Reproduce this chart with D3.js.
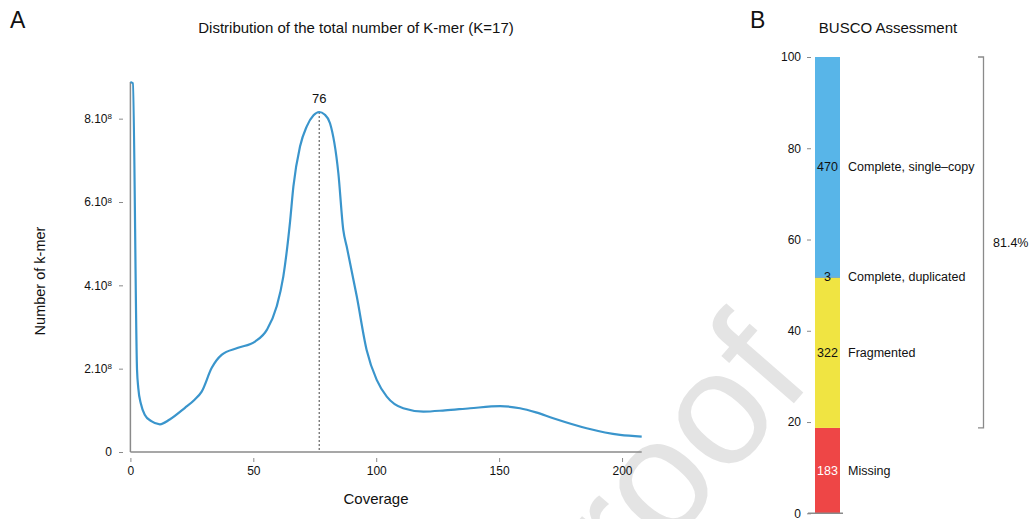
<!DOCTYPE html>
<html>
<head>
<meta charset="utf-8">
<script src="https://cdn.jsdelivr.net/npm/d3@7"></script>
<style>
  body { margin: 0; background: #fff; }
  text { font-family: "Liberation Sans", Arial, Helvetica, sans-serif; fill: #111; }
</style>
</head>
<body>
<div id="chart"></div>
<script>
// k-mer distribution (panel A)
var coverage = [0, 1, 2.7, 3.2, 4.3, 5.9, 8.5, 12, 16, 22.2, 26, 29, 33.1, 37.1, 43.8, 50.7, 55.5, 59.5, 62.2,
  64.9, 66.3, 69, 71.7, 74.5, 76.8, 79, 81.2, 84.6, 86.6, 88, 92.1, 96.1, 100.2, 104.3, 111, 119.2, 128,
  138.2, 150.4, 158.5, 165, 172, 185.6, 199.2, 208];
var kmerCount = [8.88e8, 8.85e8, 1.97e8, 1.54e8, 1.15e8, 0.89e8, 0.74e8, 0.665e8, 0.78e8, 1.06e8, 1.25e8,
  1.45e8, 2.02e8, 2.33e8, 2.5e8, 2.65e8, 2.93e8, 3.49e8, 4.21e8, 5.5e8, 6.37e8, 7.33e8, 7.81e8, 8.08e8,
  8.16e8, 8.1e8, 7.89e8, 6.69e8, 5.33e8, 4.93e8, 3.73e8, 2.45e8, 1.73e8, 1.33e8, 1.05e8, 0.97e8, 1.0e8,
  1.05e8, 1.1e8, 1.05e8, 0.95e8, 0.81e8, 0.57e8, 0.41e8, 0.37e8];
var xTicks = [0, 50, 100, 150, 200];
var yTicks = [0, 2e8, 4e8, 6e8, 8e8];
var peakLabel = "76";

// BUSCO (panel B)
var buscoCats = ["Missing", "Fragmented", "Complete, duplicated", "Complete, single\u2013copy"];
var buscoCounts = [183, 322, 3, 470];
var buscoColors = ["#EE4646", "#F0E442", "#3D8FC4", "#58B5E8"];
var buscoTicks = [0, 20, 40, 60, 80, 100];
var bracketLabel = "81.4%";

var W = 1033, H = 519;
var axisCol = "#8a8a8a";

var svg = d3.select("#chart").append("svg")
  .attr("width", W).attr("height", H);

// watermark behind everything
svg.append("text")
  .attr("transform", "translate(814,380) rotate(-49)")
  .attr("text-anchor", "end")
  .style("font-size", "162px")
  .style("fill", "#e4e4e4")
  .text("Proof");

// ---------- panel A ----------
var x = d3.scaleLinear().domain([0, 208]).range([130.4, 641.7]);
var y = d3.scaleLinear().domain([0, 8.88e8]).range([452, 82]);

svg.append("text").attr("x", 10).attr("y", 28).style("font-size", "23px").text("A");
svg.append("text").attr("x", 356).attr("y", 33).attr("text-anchor", "middle")
  .style("font-size", "15px").text("Distribution of the total number of K-mer (K=17)");

// axis lines
svg.append("line").attr("x1", x(0)).attr("x2", x(0)).attr("y1", y(8.88e8)).attr("y2", y(0))
  .attr("stroke", axisCol).attr("stroke-width", 1.5);
svg.append("line").attr("x1", x(0)).attr("x2", x(208)).attr("y1", y(0)).attr("y2", y(0))
  .attr("stroke", axisCol).attr("stroke-width", 1.5);

var yAxis = svg.append("g").attr("transform", "translate(123,0)")
  .call(d3.axisLeft(y).tickValues(yTicks).tickSize(4).tickPadding(7).tickFormat(""));
yAxis.select(".domain").remove();
yAxis.selectAll(".tick line").attr("stroke", axisCol);
yAxis.selectAll(".tick text").each(function (d) {
  var t = d3.select(this).style("font-size", "12px").style("fill", "#111");
  if (d === 0) { t.text("0"); return; }
  t.append("tspan").text((d / 1e8) + ".10");
  t.append("tspan").attr("dy", "-0.45em").style("font-size", "8px").text("8");
});

var xAxis = svg.append("g").attr("transform", "translate(0,458)")
  .call(d3.axisBottom(x).tickValues(xTicks).tickSize(4).tickPadding(4));
xAxis.select(".domain").remove();
xAxis.selectAll(".tick line").attr("stroke", axisCol);
xAxis.selectAll(".tick text").style("font-size", "12px").style("fill", "#111");

svg.append("text").attr("x", 376).attr("y", 504).attr("text-anchor", "middle")
  .style("font-size", "15px").text("Coverage");
svg.append("text").attr("transform", "translate(45,281) rotate(-90)").attr("text-anchor", "middle")
  .style("font-size", "14.5px").text("Number of k-mer");

var pts = coverage.map(function (c, i) { return [c, kmerCount[i]]; });
var line = d3.line().x(function (d) { return x(d[0]); }).y(function (d) { return y(d[1]); })
  .curve(d3.curveMonotoneX);

// peak marker
var peak = pts.reduce(function (a, b) { return (b[0] > 20 && b[1] > a[1]) ? b : a; }, [0, 0]);
svg.append("line").attr("x1", x(peak[0])).attr("x2", x(peak[0]))
  .attr("y1", y(peak[1])).attr("y2", y(0))
  .attr("stroke", "#444").attr("stroke-width", 1).attr("stroke-dasharray", "2,2");
svg.append("text").attr("x", x(peak[0])).attr("y", y(peak[1]) - 9).attr("text-anchor", "middle")
  .style("font-size", "13px").text(peakLabel);

svg.append("path").datum(pts).attr("d", line)
  .attr("fill", "none").attr("stroke", "#3A95CC").attr("stroke-width", 2.2);

// ---------- panel B ----------
var yb = d3.scaleLinear().domain([0, 100]).range([513.3, 57]);
var total = d3.sum(buscoCounts);
var acc = 0;
var segs = buscoCounts.map(function (c, i) {
  var s = { cat: buscoCats[i], n: c, y0: acc / total * 100, color: buscoColors[i] };
  acc += c;
  s.y1 = acc / total * 100;
  return s;
});

svg.append("text").attr("x", 750).attr("y", 28).style("font-size", "23px").text("B");
svg.append("text").attr("x", 888).attr("y", 33).attr("text-anchor", "middle")
  .style("font-size", "15px").text("BUSCO Assessment");

var bx0 = 815, bx1 = 840;
svg.selectAll("rect.seg").data(segs).enter().append("rect").attr("class", "seg")
  .attr("x", bx0).attr("width", bx1 - bx0)
  .attr("y", function (d) { return yb(d.y1); })
  .attr("height", function (d) { return Math.max(1, yb(d.y0) - yb(d.y1)); })
  .attr("fill", function (d) { return d.color; });

svg.selectAll("text.num").data(segs).enter().append("text").attr("class", "num")
  .attr("x", (bx0 + bx1) / 2).attr("y", function (d) { return yb((d.y0 + d.y1) / 2); })
  .attr("dy", "0.35em").attr("text-anchor", "middle").style("font-size", "12.5px")
  .style("fill", function (d) { return d.cat === "Missing" ? "#fff" : "#111"; })
  .text(function (d) { return d.n; });

svg.selectAll("text.cat").data(segs).enter().append("text").attr("class", "cat")
  .attr("x", bx1 + 8).attr("y", function (d) { return yb((d.y0 + d.y1) / 2); })
  .attr("dy", "0.35em").style("font-size", "12.5px")
  .text(function (d) { return d.cat; });

var bAxis = svg.append("g").attr("transform", "translate(811,0)")
  .call(d3.axisLeft(yb).tickValues(buscoTicks).tickSize(4).tickPadding(6));
bAxis.select(".domain").remove();
bAxis.selectAll(".tick line").attr("stroke", axisCol);
bAxis.selectAll(".tick text").style("font-size", "12px").style("fill", "#111");
svg.append("line").attr("x1", 808).attr("x2", 843).attr("y1", yb(0)).attr("y2", yb(0))
  .attr("stroke", axisCol).attr("stroke-width", 1.5);

// bracket over fragmented + complete
var bTop = yb(100), bBot = yb(segs[0].y1);
svg.append("path")
  .attr("d", "M978," + bTop + "H983.5V" + bBot + "H978")
  .attr("fill", "none").attr("stroke", axisCol).attr("stroke-width", 1.3);
svg.append("text").attr("x", 993).attr("y", (bTop + bBot) / 2).attr("dy", "0.35em")
  .style("font-size", "12.5px").text(bracketLabel);
</script>
</body>
</html>
